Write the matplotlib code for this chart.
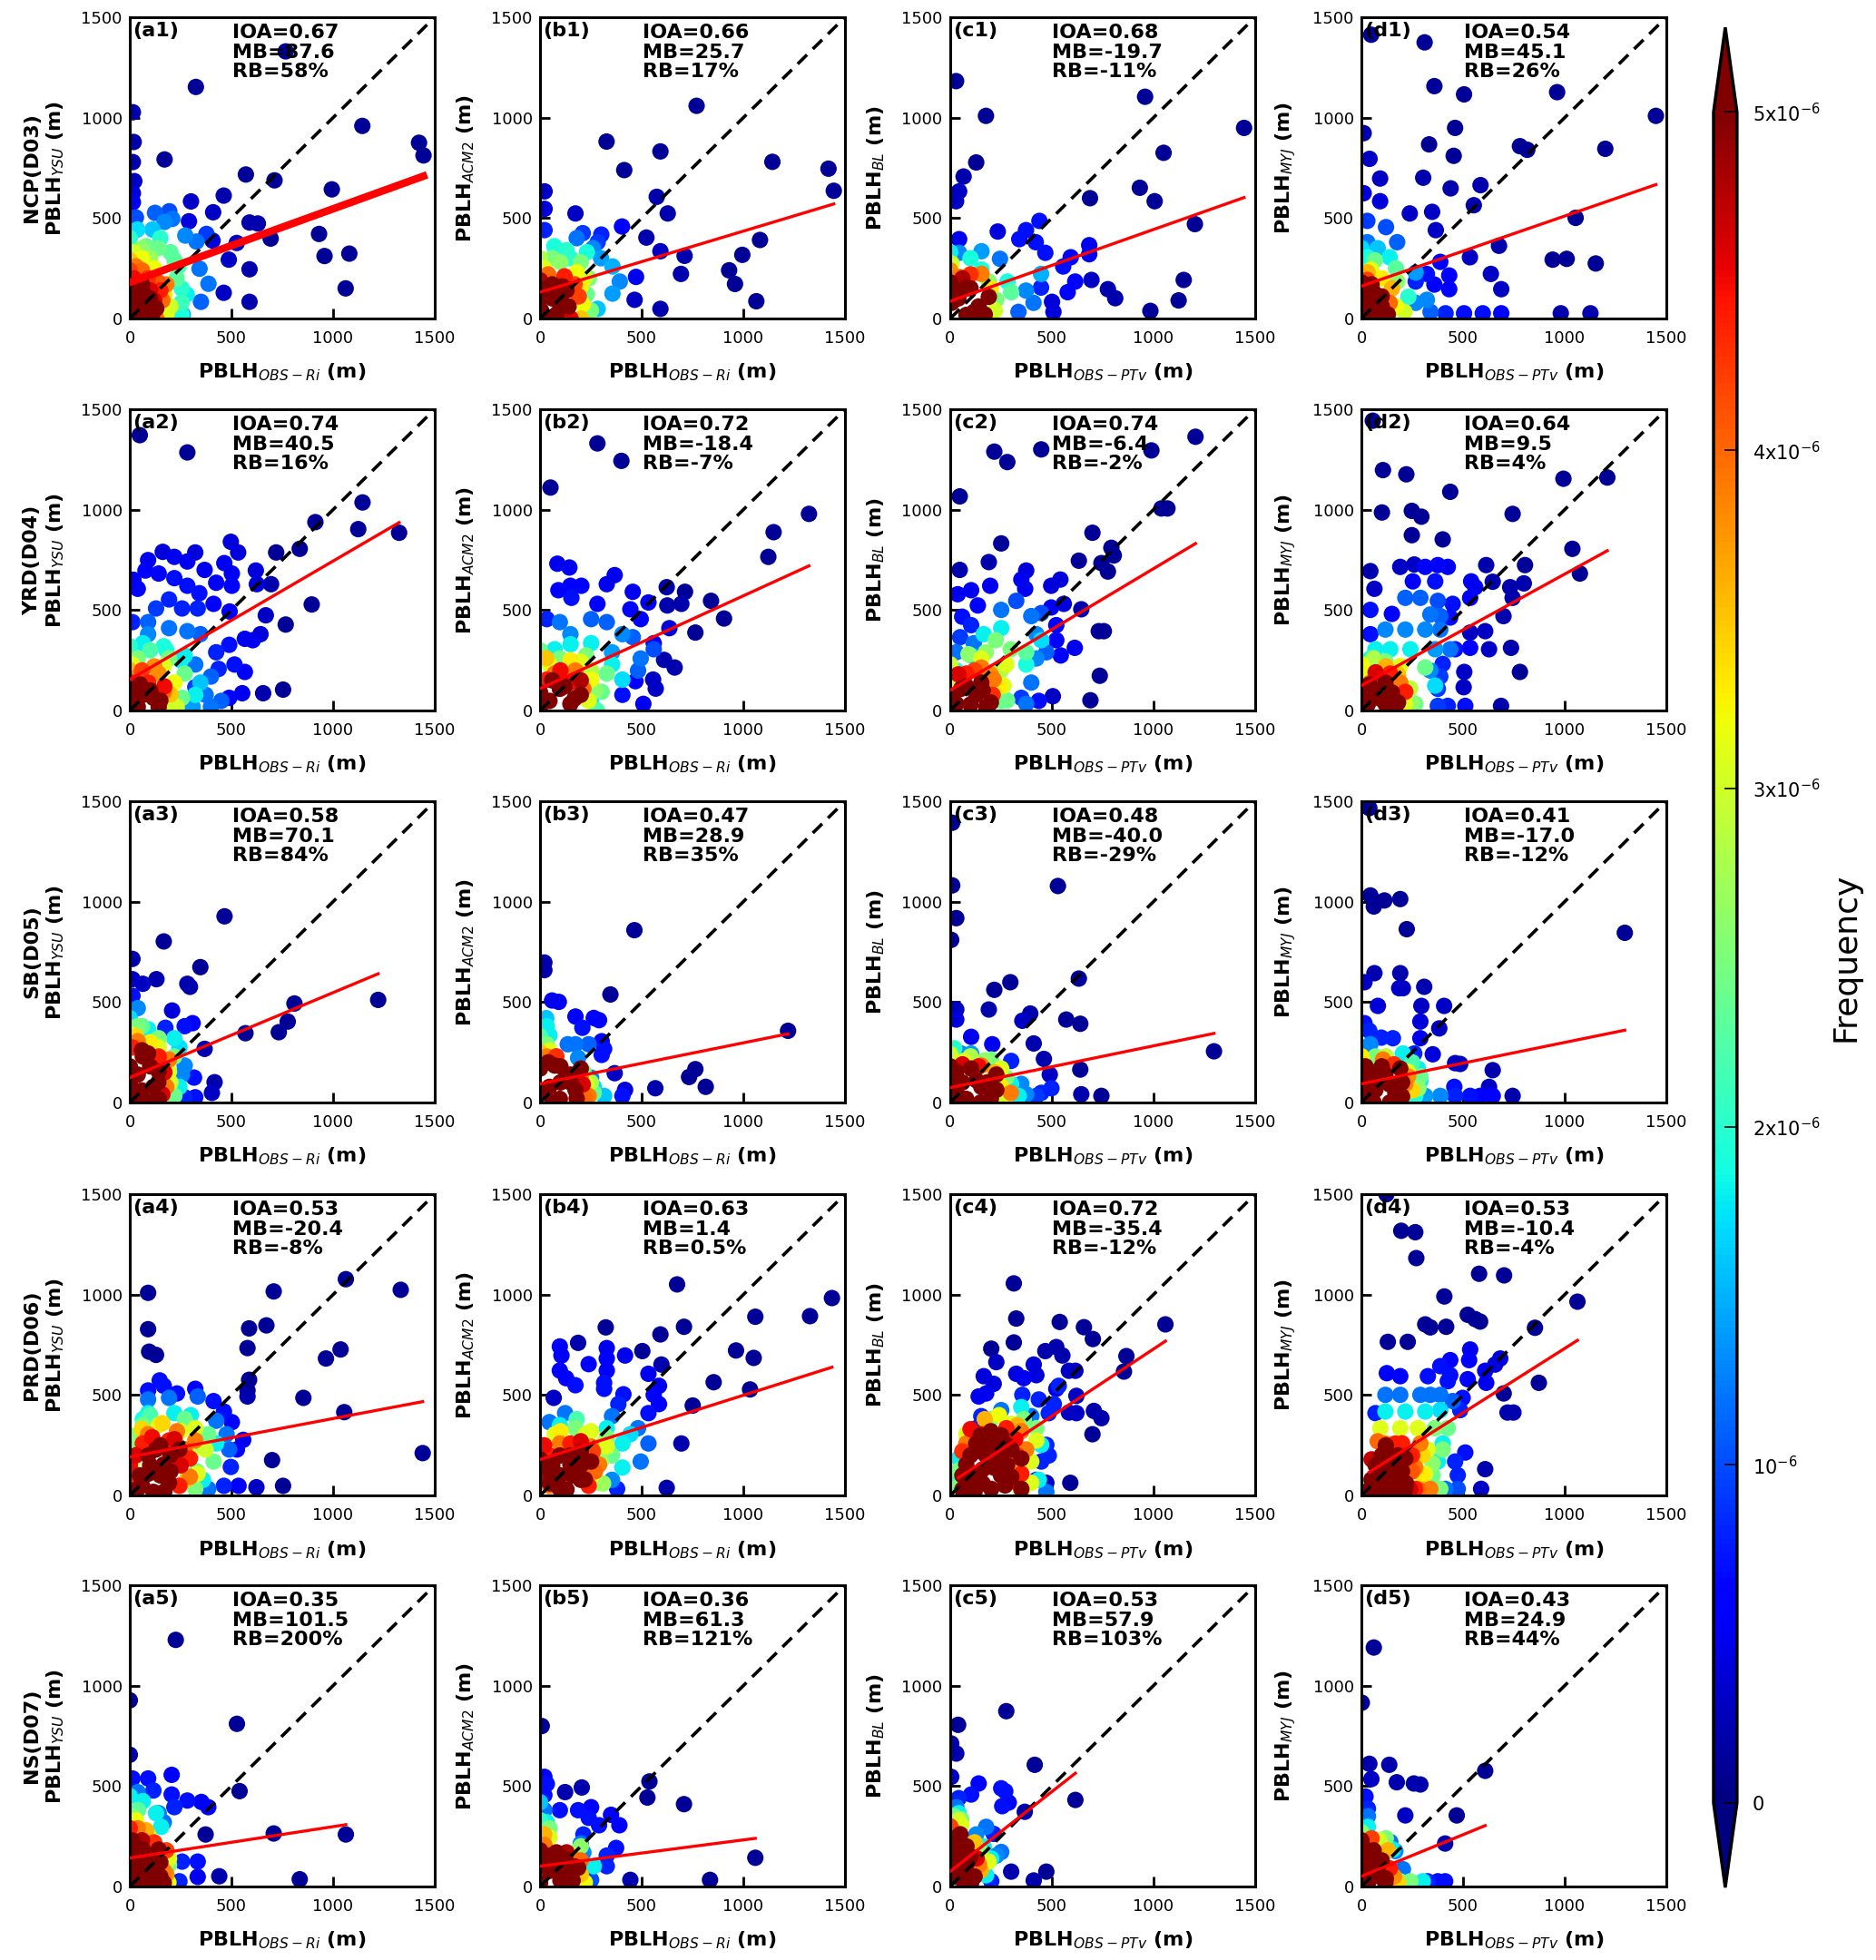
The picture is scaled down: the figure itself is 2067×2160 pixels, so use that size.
import numpy as np
import matplotlib.pyplot as plt

# rows = regions, cols = PBL schemes
regions = ['NCP(D03)', 'YRD(D04)', 'SB(D05)', 'PRD(D06)', 'NS(D07)']
schemes = ['YSU', 'ACM2', 'BL', 'MYJ']
obs_names = ['OBS-Ri', 'OBS-Ri', 'OBS-PTv', 'OBS-PTv']
letters = ['a', 'b', 'c', 'd']

ioa = [['0.67', '0.66', '0.68', '0.54'],
       ['0.74', '0.72', '0.74', '0.64'],
       ['0.58', '0.47', '0.48', '0.41'],
       ['0.53', '0.63', '0.72', '0.53'],
       ['0.35', '0.36', '0.53', '0.43']]
mb = [['87.6', '25.7', '-19.7', '45.1'],
      ['40.5', '-18.4', '-6.4', '9.5'],
      ['70.1', '28.9', '-40.0', '-17.0'],
      ['-20.4', '1.4', '-35.4', '-10.4'],
      ['101.5', '61.3', '57.9', '24.9']]
rb = [['58%', '17%', '-11%', '26%'],
      ['16%', '-7%', '-2%', '4%'],
      ['84%', '35%', '-29%', '-12%'],
      ['-8%', '0.5%', '-12%', '-4%'],
      ['200%', '121%', '103%', '44%']]

# linear fit (slope, intercept)
fit_slope = [[0.366, 0.304, 0.357, 0.349],
             [0.590, 0.462, 0.605, 0.555],
             [0.423, 0.204, 0.208, 0.206],
             [0.191, 0.320, 0.668, 0.641],
             [0.156, 0.131, 0.794, 0.414]]
fit_icpt = [[180, 131, 86, 161],
            [154, 109, 101, 124],
            [124, 93, 74, 93],
            [192, 179, 61, 91],
            [142, 101, 75, 51]]

# points: (obs, model, frequency in 1e-6)
a1_pts = [(767, 1330, 0.1), (325, 1153, 0.1), (15, 1027, 0.2), (19, 879, 0.2), (15, 779, 0.2), (171, 792, 0.1),
          (22, 684, 0.3), (15, 624, 0.4), (15, 579, 0.5), (1144, 959, 0.1), (1423, 875, 0.1), (1445, 812, 0.1),
          (571, 717, 0.1), (712, 688, 0.1), (994, 643, 0.1), (462, 612, 0.2), (301, 583, 0.3), (410, 529, 0.3),
          (291, 484, 0.4), (589, 478, 0.2), (630, 473, 0.2), (407, 388, 0.4), (693, 398, 0.1), (931, 421, 0.1),
          (958, 311, 0.1), (1080, 323, 0.1), (487, 293, 0.3), (589, 245, 0.2), (1062, 150, 0.1), (462, 128, 0.3),
          (589, 83, 0.2), (526, 376, 0.3), (377, 421, 0.9), (350, 83, 1.1), (387, 173, 1.2), (343, 248, 1.2),
          (273, 413, 1.3), (328, 383, 1.2), (124, 526, 1.1), (194, 534, 1.0), (209, 496, 1.2), (171, 481, 1.3),
          (112, 443, 1.6), (30, 503, 1.0), (37, 443, 1.7), (260, 20, 1.4), (80, 360, 2.4), (140, 350, 2.4),
          (200, 330, 2.3), (100, 300, 2.7), (220, 290, 2.3), (240, 260, 2.2), (255, 150, 2.0), (255, 80, 2.1),
          (255, 20, 1.9), (230, 200, 2.3), (280, 120, 1.8), (20, 330, 3.0), (60, 300, 3.2), (120, 250, 3.2),
          (150, 60, 3.0), (180, 20, 3.1), (170, 120, 3.3), (30, 260, 3.9), (60, 240, 4.0), (180, 170, 3.9),
          (140, 180, 4.1), (20, 200, 4.5), (100, 140, 4.6), (120, 90, 4.6), (40, 150, 4.9), (30, 80, 5.5),
          (60, 60, 5.6), (90, 40, 5.5), (5, 20, 5.6), (70, 120, 5.4), (40, 110, 5.6), (110, 20, 5.3),
          (0, 50, 5.6), (50, 0, 5.6), (100, 100, 5.5), (130, 50, 5.3), (0, 130, 5.4), (60, 170, 5.0),
          (0, 240, 4.2), (90, 200, 4.3), (150, 140, 4.4), (160, 90, 4.0), (130, 0, 4.0), (200, 60, 3.0),
          (60, 350, 2.6), (0, 400, 2.0), (150, 400, 2.0), (0, 290, 3.5)]

b1_pts = [(770, 1059, 0.1), (327, 881, 0.1), (592, 832, 0.1), (414, 739, 0.1), (1143, 780, 0.1), (1419, 746, 0.1),
          (1445, 636, 0.1), (574, 606, 0.2), (628, 523, 0.2), (22, 633, 0.3), (22, 546, 0.4), (174, 523, 0.3),
          (523, 403, 0.2), (592, 335, 0.3), (711, 312, 0.2), (1082, 391, 0.1), (995, 317, 0.1), (930, 240, 0.1),
          (959, 172, 0.1), (693, 222, 0.2), (472, 207, 0.5), (465, 93, 0.3), (592, 48, 0.2), (1064, 86, 0.1),
          (403, 458, 0.6), (22, 440, 0.8), (301, 418, 0.8), (210, 425, 0.9), (283, 380, 0.9), (180, 400, 1.2),
          (260, 350, 1.3), (300, 300, 1.4), (356, 259, 1.5), (392, 184, 1.3), (356, 124, 1.4), (283, 48, 1.6),
          (70, 360, 1.9), (130, 340, 2.0), (230, 330, 1.9), (100, 280, 2.6), (200, 280, 2.5), (240, 200, 2.5),
          (230, 120, 2.4), (250, 40, 2.5), (20, 250, 3.1), (180, 230, 3.2), (200, 160, 3.3), (210, 70, 3.2),
          (40, 220, 4.0), (120, 210, 4.4), (150, 170, 4.0), (190, 110, 4.2), (30, 150, 5.3), (60, 100, 5.5),
          (100, 60, 5.6), (5, 40, 5.6), (130, 140, 5.2), (80, 20, 5.6), (110, 160, 5.2),
          (0, 100, 5.5), (60, 170, 5.3), (100, 110, 5.5), (140, 60, 5.4), (0, 190, 4.8), (40, 0, 5.6),
          (150, 0, 4.6), (170, 170, 4.2), (0, 300, 2.8), (60, 300, 2.5), (150, 300, 2.0), (200, 0, 3.5),
          (220, 200, 3.0)]

c1_pts = [(29, 1182, 0.1), (176, 1009, 0.1), (128, 777, 0.1), (66, 707, 0.2), (44, 633, 0.3), (29, 584, 0.3),
          (959, 1104, 0.1), (1446, 949, 0.1), (1050, 825, 0.1), (933, 651, 0.1), (1006, 584, 0.1), (688, 599, 0.1),
          (1204, 470, 0.1), (234, 433, 0.4), (44, 395, 0.5), (1149, 192, 0.1), (1124, 90, 0.1), (985, 38, 0.1),
          (776, 146, 0.2), (812, 101, 0.2), (695, 192, 0.3), (501, 83, 0.4), (508, 33, 0.4), (439, 486, 0.7),
          (373, 440, 0.7), (340, 395, 0.7), (421, 380, 0.7), (468, 327, 0.7), (593, 305, 0.6), (684, 365, 0.5),
          (684, 320, 0.5), (556, 259, 0.7), (615, 184, 0.6), (578, 131, 0.6), (447, 154, 0.8), (336, 33, 1.1),
          (410, 78, 1.2), (373, 139, 1.3), (245, 297, 1.2), (44, 327, 1.3), (154, 335, 1.4), (154, 244, 1.9),
          (282, 184, 1.9), (447, 222, 1.5), (190, 184, 2.6), (227, 93, 2.5), (300, 131, 2.3), (7, 274, 3.0),
          (154, 33, 3.0), (44, 207, 3.9), (154, 222, 3.9), (80, 154, 5.3), (7, 78, 5.6), (117, 33, 5.6),
          (190, 108, 5.0), (44, 139, 5.5), (80, 18, 5.6),
          (40, 100, 5.6), (100, 150, 5.4), (140, 60, 5.5), (0, 180, 5.2), (170, 20, 5.0), (60, 200, 4.8),
          (100, 220, 4.3), (0, 240, 3.8), (200, 150, 3.3), (220, 40, 3.0), (0, 330, 1.8), (100, 300, 1.9)]

d1_pts = [(48, 1413, 0.1), (311, 1375, 0.1), (359, 1157, 0.1), (505, 1116, 0.1), (963, 1127, 0.1), (461, 949, 0.1),
          (11, 923, 0.2), (333, 867, 0.1), (454, 810, 0.1), (780, 858, 0.1), (816, 840, 0.1), (1200, 845, 0.1),
          (1449, 1009, 0.1), (40, 795, 0.3), (92, 697, 0.3), (304, 701, 0.2), (11, 624, 0.4), (439, 648, 0.2),
          (586, 664, 0.2), (92, 584, 0.4), (553, 564, 0.2), (238, 523, 0.3), (348, 531, 0.3), (1054, 501, 0.1),
          (366, 440, 0.3), (677, 362, 0.2), (941, 293, 0.1), (1010, 297, 0.1), (1153, 274, 0.1), (534, 305, 0.3),
          (637, 222, 0.3), (688, 146, 0.3), (981, 26, 0.2), (1127, 26, 0.2), (505, 26, 0.7), (597, 26, 0.7),
          (688, 26, 0.6), (414, 26, 0.8), (432, 146, 0.6), (359, 169, 0.6), (432, 214, 0.6), (322, 222, 0.7),
          (388, 282, 0.6), (267, 184, 0.8), (29, 486, 0.9), (121, 455, 1.0), (176, 380, 1.1), (29, 380, 1.2),
          (267, 78, 1.3), (340, 33, 1.1), (322, 93, 1.3), (267, 229, 1.4), (29, 305, 1.9), (139, 305, 1.8),
          (231, 108, 2.0), (66, 290, 2.4), (176, 184, 2.6), (48, 244, 3.1), (212, 33, 3.0), (29, 192, 4.2),
          (139, 78, 4.0), (5, 130, 5.4), (40, 80, 5.6), (80, 40, 5.6), (20, 20, 5.6), (60, 130, 5.2), (100, 60, 5.4),
          (0, 50, 5.6), (50, 170, 5.2), (100, 110, 5.3), (130, 20, 5.4), (0, 180, 5.0), (30, 230, 3.6),
          (100, 200, 3.3), (150, 150, 3.6), (170, 60, 3.2), (0, 350, 1.7), (80, 350, 1.6), (170, 250, 2.3)]

a2_pts = [(49, 1371, 0.1), (283, 1285, 0.1), (1145, 1036, 0.1), (1124, 903, 0.1), (1325, 885, 0.1), (913, 938, 0.1),
          (836, 805, 0.1), (895, 528, 0.1), (767, 428, 0.1), (754, 104, 0.1), (656, 86, 0.2), (553, 86, 0.5),
          (720, 787, 0.1), (695, 629, 0.2), (497, 840, 0.4), (533, 787, 0.4), (465, 734, 0.5), (502, 682, 0.5),
          (502, 621, 0.6), (425, 636, 0.6), (368, 700, 0.5), (322, 787, 0.4), (283, 742, 0.5), (219, 765, 0.5),
          (162, 790, 0.4), (90, 749, 0.5), (142, 682, 0.6), (77, 697, 0.6), (219, 659, 0.7), (283, 621, 0.7),
          (342, 584, 0.7), (412, 531, 0.6), (334, 508, 0.8), (257, 508, 0.8), (193, 553, 0.8), (129, 508, 0.9),
          (18, 651, 0.5), (39, 606, 0.6), (620, 697, 0.4), (625, 629, 0.4), (491, 493, 0.6), (669, 474, 0.3),
          (643, 380, 0.4), (566, 357, 0.5), (605, 350, 0.5), (489, 327, 0.7), (515, 229, 0.7), (566, 192, 0.6),
          (437, 207, 0.8), (425, 290, 0.8), (489, 63, 0.6), (322, 116, 0.9), (13, 440, 0.8), (90, 440, 1.1),
          (193, 410, 1.2), (283, 395, 1.2), (347, 380, 1.1), (90, 380, 1.3), (322, 229, 1.2), (399, 169, 1.1),
          (373, 78, 1.2), (450, 48, 1.1), (399, 18, 1.2), (309, 18, 1.4), (64, 335, 1.8), (167, 320, 1.9),
          (270, 274, 1.8), (322, 78, 1.8), (347, 139, 1.6), (39, 259, 2.5), (193, 259, 2.5), (270, 184, 2.4),
          (257, 63, 2.4), (13, 229, 3.1), (167, 222, 3.1), (219, 139, 3.2), (206, 33, 3.0), (39, 169, 3.9),
          (142, 184, 3.8), (167, 93, 4.0), (90, 139, 4.4), (13, 139, 4.4), (64, 78, 5.6), (116, 63, 5.5),
          (39, 18, 5.6), (26, 108, 5.4), (142, 18, 5.3), (0, 50, 5.2),
          (50, 130, 5.4), (100, 100, 5.6), (150, 50, 5.4), (0, 100, 5.5), (170, 120, 4.5), (60, 200, 4.2),
          (120, 220, 3.8), (0, 200, 3.6), (200, 80, 3.5), (230, 20, 3.0), (100, 300, 2.2), (250, 250, 1.8),
          (0, 320, 2.0), (180, 300, 1.9)]

b2_pts = [(282, 1330, 0.1), (400, 1243, 0.1), (51, 1110, 0.1), (1323, 979, 0.1), (1149, 888, 0.1), (1123, 765, 0.1),
          (841, 546, 0.1), (905, 458, 0.1), (623, 614, 0.2), (713, 591, 0.1), (626, 523, 0.2), (695, 531, 0.2),
          (764, 388, 0.1), (610, 252, 0.2), (662, 214, 0.2), (556, 154, 0.3), (569, 109, 0.3), (508, 33, 0.5),
          (85, 731, 0.5), (144, 712, 0.5), (90, 599, 0.6), (149, 621, 0.6), (203, 621, 0.6), (154, 561, 0.7),
          (282, 531, 0.6), (328, 629, 0.5), (367, 674, 0.5), (456, 591, 0.5), (533, 538, 0.5), (444, 504, 0.6),
          (495, 455, 0.6), (636, 410, 0.4), (559, 335, 0.6), (469, 146, 0.6), (405, 78, 0.7), (33, 455, 0.8),
          (97, 440, 1.2), (251, 455, 1.1), (328, 440, 1.1), (149, 380, 1.3), (456, 365, 1.1), (559, 305, 1.0),
          (495, 259, 1.2), (405, 380, 1.3), (354, 290, 1.4), (482, 199, 1.1), (72, 305, 1.8), (251, 335, 1.8),
          (354, 229, 1.8), (405, 154, 1.7), (251, 48, 1.8), (97, 259, 2.5), (226, 274, 2.5), (328, 184, 2.4),
          (303, 93, 2.4), (46, 229, 3.1), (200, 244, 3.1), (251, 154, 3.2), (239, 48, 3.1), (72, 184, 3.9),
          (174, 199, 3.9), (213, 108, 4.0), (33, 154, 4.4), (149, 139, 4.5), (97, 108, 5.6), (46, 48, 5.6),
          (149, 33, 5.5), (200, 78, 5.4), (0, 18, 5.6),
          (60, 150, 5.5), (120, 120, 5.6), (170, 60, 5.5), (0, 90, 5.4), (200, 150, 4.8), (100, 200, 4.5),
          (30, 260, 3.5), (150, 250, 3.3), (250, 200, 2.8), (270, 100, 2.6), (280, 0, 2.2), (0, 300, 2.4),
          (150, 330, 1.8)]

c2_pts = [(217, 1289, 0.1), (281, 1237, 0.1), (448, 1300, 0.1), (990, 1295, 0.1), (1207, 1363, 0.1), (47, 1066, 0.1),
          (1039, 1006, 0.1), (1069, 1006, 0.1), (700, 885, 0.1), (251, 832, 0.1), (793, 810, 0.1), (805, 772, 0.1),
          (744, 734, 0.1), (776, 692, 0.1), (633, 746, 0.1), (190, 739, 0.2), (47, 700, 0.2), (731, 395, 0.1),
          (756, 395, 0.1), (736, 173, 0.1), (690, 51, 0.1), (645, 504, 0.2), (505, 71, 0.3), (37, 579, 0.5),
          (103, 599, 0.5), (136, 523, 0.6), (197, 621, 0.5), (374, 697, 0.4), (369, 606, 0.5), (350, 652, 0.5),
          (497, 621, 0.4), (542, 652, 0.4), (559, 531, 0.4), (497, 513, 0.5), (59, 467, 0.7), (103, 425, 0.8),
          (49, 365, 0.9), (522, 425, 0.6), (522, 350, 0.6), (613, 312, 0.5), (544, 274, 0.6), (436, 48, 0.7),
          (350, 63, 0.9), (251, 501, 1.2), (325, 546, 1.0), (399, 470, 1.2), (448, 485, 1.0), (424, 380, 1.3),
          (473, 290, 1.1), (424, 259, 1.3), (116, 335, 1.2), (30, 290, 1.2), (399, 139, 1.2), (374, 33, 1.2),
          (251, 410, 1.8), (165, 380, 1.8), (448, 350, 1.7), (374, 229, 1.9), (103, 274, 1.8), (30, 199, 1.9),
          (224, 350, 2.5), (298, 305, 2.5), (175, 290, 2.6), (374, 290, 2.3), (251, 48, 2.4), (153, 259, 3.1),
          (276, 229, 3.1), (17, 139, 3.1), (263, 124, 3.1), (153, 214, 3.9), (214, 154, 3.9), (79, 184, 4.4),
          (209, 78, 4.3), (54, 108, 5.6), (128, 78, 5.6), (30, 33, 5.6), (153, 139, 5.3), (177, 18, 5.5),
          (0, 60, 5.4),
          (80, 120, 5.6), (160, 100, 5.5), (100, 30, 5.6), (200, 40, 5.2), (40, 180, 4.6), (120, 200, 4.2),
          (200, 180, 3.8), (240, 120, 3.3), (0, 230, 3.0), (90, 280, 2.6), (250, 200, 2.8), (280, 50, 2.4)]

d2_pts = [(56, 1443, 0.1), (106, 1197, 0.1), (221, 1176, 0.1), (437, 1089, 0.1), (994, 1154, 0.1), (1210, 1160, 0.1),
          (101, 986, 0.1), (248, 994, 0.1), (295, 965, 0.1), (744, 979, 0.1), (248, 873, 0.1), (400, 852, 0.1),
          (1038, 805, 0.1), (1075, 682, 0.1), (44, 694, 0.2), (64, 606, 0.3), (191, 715, 0.3), (260, 727, 0.3),
          (614, 724, 0.2), (805, 724, 0.1), (646, 641, 0.2), (732, 614, 0.2), (799, 633, 0.2), (744, 561, 0.2),
          (699, 470, 0.2), (609, 395, 0.3), (535, 388, 0.3), (628, 305, 0.3), (736, 312, 0.2), (780, 192, 0.1),
          (506, 192, 0.3), (503, 116, 0.3), (687, 23, 0.2), (44, 501, 0.7), (44, 380, 0.7), (150, 481, 0.6),
          (253, 643, 0.6), (314, 715, 0.6), (376, 724, 0.6), (425, 715, 0.5), (363, 643, 0.7), (540, 643, 0.5),
          (560, 614, 0.5), (535, 561, 0.6), (449, 531, 0.7), (437, 463, 0.7), (461, 305, 0.7), (535, 312, 0.6),
          (400, 232, 0.8), (376, 108, 0.9), (425, 23, 0.8), (511, 23, 0.7), (376, 23, 0.9), (388, 169, 0.9),
          (216, 561, 1.1), (290, 561, 1.1), (376, 546, 1.0), (339, 478, 1.2), (388, 470, 1.1), (118, 403, 1.3),
          (216, 403, 1.3), (314, 403, 1.3), (388, 403, 1.2), (363, 305, 1.4), (437, 305, 1.2), (339, 199, 1.3),
          (69, 305, 1.8), (142, 305, 1.8), (241, 305, 1.8), (44, 259, 1.9), (363, 124, 1.7), (118, 244, 2.5),
          (314, 214, 2.4), (265, 33, 2.4), (44, 184, 3.1), (191, 222, 3.1), (216, 33, 3.1), (93, 169, 3.9),
          (191, 139, 3.9), (44, 139, 3.9), (142, 184, 4.4), (216, 93, 4.4), (69, 93, 5.6), (118, 33, 5.6),
          (32, 33, 5.5), (118, 139, 5.2), (167, 18, 5.4), (0, 60, 5.0),
          (40, 130, 5.5), (90, 60, 5.6), (150, 90, 5.4), (180, 40, 5.3), (0, 120, 5.2), (70, 190, 4.6),
          (120, 220, 3.6), (180, 180, 3.5), (0, 230, 3.2), (60, 260, 2.8), (240, 110, 2.9), (250, 40, 2.6)]

a3_pts = [(466, 927, 0.1), (167, 802, 0.1), (13, 715, 0.2), (347, 674, 0.1), (131, 614, 0.2), (64, 591, 0.3),
          (13, 614, 0.3), (296, 576, 0.2), (283, 591, 0.2), (1222, 511, 0.1), (810, 493, 0.1), (777, 403, 0.1),
          (733, 350, 0.1), (569, 345, 0.1), (208, 458, 0.4), (368, 267, 0.2), (417, 101, 0.2), (404, 48, 0.3),
          (270, 380, 0.7), (309, 395, 0.6), (175, 372, 0.8), (316, 124, 0.7), (270, 26, 0.8), (322, 26, 0.7),
          (13, 531, 0.7), (270, 184, 1.3), (257, 139, 1.3), (39, 470, 1.3), (90, 365, 1.8), (219, 320, 1.8),
          (244, 274, 1.7), (244, 78, 1.8), (39, 380, 2.5), (142, 320, 2.5), (219, 229, 2.5), (219, 33, 2.4),
          (13, 335, 3.1), (142, 274, 3.1), (193, 154, 3.1), (39, 305, 3.9), (193, 214, 3.9), (180, 78, 3.9),
          (13, 274, 4.4), (142, 229, 4.4), (64, 229, 5.3), (39, 139, 5.6), (116, 78, 5.6), (39, 33, 5.6),
          (142, 154, 5.4), (90, 244, 5.2), (142, 18, 5.5), (0, 90, 5.6),
          (0, 180, 5.6), (60, 260, 5.0), (100, 180, 5.6), (60, 60, 5.6), (140, 100, 5.3), (0, 40, 5.6),
          (100, 0, 5.5), (170, 150, 4.6), (160, 40, 4.6), (30, 330, 3.4), (100, 300, 3.3), (200, 100, 3.0),
          (60, 380, 2.3), (0, 420, 1.7)]

b3_pts = [(464, 858, 0.1), (21, 697, 0.2), (21, 659, 0.2), (346, 538, 0.1), (1220, 357, 0.1), (764, 166, 0.1),
          (733, 127, 0.1), (815, 78, 0.1), (567, 71, 0.2), (418, 63, 0.4), (367, 146, 0.3), (59, 508, 0.5),
          (92, 501, 0.5), (174, 428, 0.6), (264, 421, 0.6), (290, 410, 0.6), (208, 372, 0.7), (303, 305, 0.6),
          (315, 267, 0.7), (303, 237, 0.7), (405, 33, 0.7), (136, 290, 1.2), (174, 290, 1.2), (239, 290, 1.1),
          (187, 222, 1.3), (251, 124, 1.3), (33, 380, 1.8), (46, 335, 1.8), (264, 78, 1.7), (315, 33, 1.6),
          (33, 290, 2.5), (213, 154, 2.5), (264, 48, 2.4), (46, 259, 3.1), (226, 93, 3.1), (33, 229, 3.9),
          (200, 124, 3.9), (239, 33, 3.9), (72, 184, 5.6), (149, 139, 5.6), (46, 78, 5.6), (174, 63, 5.6),
          (97, 18, 5.6), (200, 169, 5.2), (0, 169, 5.3),
          (100, 100, 5.6), (150, 100, 5.5), (40, 200, 5.4), (100, 180, 5.5), (180, 20, 5.4), (0, 60, 5.6),
          (60, 0, 5.6), (210, 90, 4.6), (220, 20, 4.0), (0, 250, 3.5), (80, 230, 4.3), (250, 100, 2.8),
          (0, 330, 2.2), (30, 420, 1.6)]

c3_pts = [(10, 1393, 0.1), (10, 1081, 0.1), (530, 1078, 0.1), (30, 918, 0.1), (5, 810, 0.1), (296, 599, 0.1),
          (217, 561, 0.1), (633, 617, 0.1), (30, 463, 0.3), (30, 413, 0.4), (190, 463, 0.2), (394, 443, 0.2),
          (355, 407, 0.3), (571, 413, 0.1), (640, 392, 0.1), (103, 327, 0.5), (411, 294, 0.2), (207, 290, 0.5),
          (1298, 255, 0.1), (461, 217, 0.2), (640, 164, 0.1), (490, 139, 0.3), (645, 41, 0.2), (744, 33, 0.1),
          (498, 71, 0.8), (448, 48, 0.8), (424, 33, 0.9), (300, 207, 0.8), (374, 41, 1.3), (350, 93, 1.3),
          (54, 244, 1.3), (103, 244, 1.4), (30, 214, 1.8), (300, 93, 1.8), (337, 33, 1.8), (202, 214, 2.5),
          (276, 124, 2.5), (251, 33, 2.4), (66, 207, 3.1), (251, 169, 3.1), (153, 184, 3.9), (298, 48, 3.9),
          (30, 154, 5.5), (103, 169, 5.5), (153, 78, 5.6), (30, 48, 5.6), (227, 63, 5.4), (227, 139, 5.2),
          (79, 18, 5.6), (0, 100, 5.6),
          (60, 100, 5.6), (130, 110, 5.6), (180, 100, 5.5), (50, 0, 5.6), (200, 20, 5.5), (150, 0, 5.5),
          (0, 180, 5.2), (60, 190, 4.6), (140, 180, 4.5), (220, 150, 3.6), (250, 80, 3.3), (260, 20, 3.0),
          (0, 240, 3.0), (100, 230, 2.8), (170, 210, 2.6), (20, 270, 2.0)]

d3_pts = [(39, 1466, 0.1), (44, 1031, 0.1), (61, 976, 0.1), (113, 1006, 0.1), (191, 1013, 0.1), (223, 863, 0.1),
          (1296, 845, 0.1), (64, 644, 0.2), (191, 644, 0.2), (204, 569, 0.3), (186, 569, 0.3), (309, 576, 0.2),
          (15, 599, 0.3), (81, 481, 0.4), (295, 481, 0.3), (407, 481, 0.3), (290, 403, 0.4), (383, 369, 0.3),
          (290, 320, 0.5), (351, 240, 0.4), (461, 196, 0.3), (486, 192, 0.3), (646, 161, 0.2), (628, 78, 0.3),
          (744, 33, 0.2), (15, 395, 0.7), (39, 357, 0.8), (155, 320, 0.8), (98, 323, 0.8), (260, 244, 0.8),
          (457, 78, 0.7), (535, 33, 0.7), (584, 33, 0.6), (646, 33, 0.6), (461, 33, 0.8), (44, 290, 1.3),
          (388, 33, 1.3), (314, 33, 1.4), (204, 244, 1.8), (278, 169, 1.8), (290, 108, 1.8), (265, 33, 1.9),
          (69, 229, 2.5), (290, 131, 2.4), (7, 199, 3.1), (228, 154, 3.1), (106, 214, 3.9), (216, 93, 3.9),
          (44, 154, 5.6), (118, 139, 5.5), (69, 63, 5.6), (167, 48, 5.5), (20, 18, 5.6), (191, 169, 5.2),
          (0, 100, 5.6),
          (70, 100, 5.6), (140, 90, 5.6), (200, 100, 5.4), (0, 60, 5.6), (60, 0, 5.6), (140, 0, 5.6),
          (200, 30, 5.4), (20, 180, 5.0), (100, 180, 5.0), (160, 190, 4.3), (230, 130, 3.8), (250, 60, 3.4),
          (0, 230, 3.3), (120, 230, 2.9), (250, 200, 2.2), (280, 70, 2.6)]

a4_pts = [(90, 1009, 0.1), (90, 828, 0.1), (95, 716, 0.1), (129, 700, 0.1), (708, 1016, 0.1), (1063, 1077, 0.1),
          (1333, 1024, 0.1), (587, 832, 0.1), (672, 847, 0.1), (579, 734, 0.1), (965, 682, 0.1), (1037, 727, 0.1),
          (587, 576, 0.1), (579, 523, 0.1), (579, 493, 0.2), (854, 486, 0.1), (1055, 415, 0.1), (1441, 211, 0.1),
          (700, 176, 0.1), (754, 48, 0.1), (623, 41, 0.3), (147, 573, 0.7), (167, 546, 0.7), (90, 523, 0.7),
          (232, 508, 0.7), (322, 531, 0.6), (412, 470, 0.7), (463, 418, 0.7), (502, 365, 0.6), (558, 277, 0.5),
          (527, 229, 0.6), (535, 48, 0.6), (463, 48, 0.8), (497, 142, 0.8), (90, 478, 1.2), (193, 486, 1.2),
          (334, 493, 1.1), (425, 372, 1.2), (476, 305, 1.2), (489, 229, 1.1), (386, 33, 1.2), (90, 410, 1.8),
          (219, 410, 1.8), (425, 259, 1.8), (360, 78, 1.8), (64, 380, 1.9), (64, 350, 2.5), (270, 380, 2.4),
          (386, 305, 2.4), (412, 169, 2.4), (26, 259, 2.5), (322, 33, 2.5), (142, 350, 3.1), (322, 335, 3.1),
          (373, 229, 3.0), (334, 108, 3.1), (13, 169, 3.1), (90, 305, 3.9), (232, 320, 3.9), (322, 274, 3.9),
          (296, 93, 3.9), (64, 259, 4.4), (193, 274, 4.4), (296, 184, 4.4), (244, 48, 4.4), (90, 199, 5.5),
          (167, 154, 5.6), (90, 108, 5.6), (193, 63, 5.5), (39, 33, 5.4), (244, 229, 5.2), (129, 229, 5.6),
          (116, 18, 5.5), (0, 150, 4.5),
          (150, 250, 5.4), (200, 200, 5.5), (100, 150, 5.6), (150, 100, 5.6), (200, 120, 5.5), (50, 100, 5.4),
          (60, 50, 5.5), (170, 20, 5.2), (250, 150, 4.6), (220, 280, 4.6), (110, 290, 4.5), (30, 200, 4.6),
          (0, 80, 4.3), (270, 230, 4.0), (280, 80, 3.5), (160, 360, 3.4), (60, 330, 3.4), (250, 320, 3.1),
          (300, 200, 3.0), (0, 300, 2.6), (100, 400, 2.2), (300, 400, 1.8), (330, 250, 2.0), (330, 120, 2.4),
          (0, 20, 3.8)]

b4_pts = [(674, 1051, 0.1), (1436, 983, 0.1), (1328, 893, 0.1), (1059, 890, 0.1), (708, 840, 0.1), (592, 802, 0.1),
          (323, 837, 0.1), (187, 760, 0.2), (503, 719, 0.1), (964, 722, 0.1), (1051, 685, 0.1), (854, 564, 0.1),
          (1033, 528, 0.1), (751, 448, 0.1), (695, 259, 0.2), (623, 38, 0.2), (67, 486, 0.3), (597, 652, 0.2),
          (97, 742, 0.6), (105, 697, 0.6), (97, 622, 0.6), (128, 584, 0.6), (174, 549, 0.7), (239, 654, 0.6),
          (328, 734, 0.5), (328, 682, 0.6), (328, 622, 0.6), (315, 561, 0.7), (418, 697, 0.5), (315, 531, 0.7),
          (410, 504, 0.7), (533, 606, 0.5), (585, 546, 0.5), (559, 501, 0.6), (585, 455, 0.6), (533, 410, 0.7),
          (385, 455, 0.8), (379, 33, 0.8), (46, 365, 1.2), (123, 410, 1.2), (354, 395, 1.2), (482, 335, 1.2),
          (533, 259, 1.1), (495, 169, 1.2), (354, 78, 1.3), (97, 350, 1.8), (328, 335, 1.8), (405, 259, 1.8),
          (405, 139, 1.8), (444, 305, 1.7), (174, 335, 2.5), (328, 290, 2.5), (354, 199, 2.4), (290, 63, 2.5),
          (72, 305, 3.1), (226, 305, 3.1), (328, 244, 3.1), (251, 93, 3.1), (97, 259, 3.9), (251, 244, 3.9),
          (290, 154, 3.9), (46, 48, 3.9), (149, 259, 4.4), (46, 199, 4.4), (239, 48, 4.4), (97, 199, 5.6),
          (200, 214, 5.5), (149, 154, 5.6), (46, 124, 5.4), (200, 78, 5.6), (97, 33, 5.5), (251, 169, 5.3),
          (0, 150, 4.6),
          (60, 150, 5.6), (150, 200, 5.6), (200, 150, 5.5), (100, 100, 5.6), (160, 100, 5.6), (50, 60, 5.5),
          (130, 30, 5.5), (220, 80, 5.0), (20, 250, 4.5), (200, 270, 4.6), (260, 220, 4.2), (270, 120, 4.0),
          (0, 180, 5.0), (100, 320, 3.3), (250, 320, 3.1), (300, 250, 2.9), (300, 170, 2.7), (0, 80, 4.8),
          (180, 380, 2.2), (310, 60, 2.7)]

c4_pts = [(313, 1056, 0.1), (325, 881, 0.1), (313, 762, 0.1), (202, 731, 0.1), (539, 864, 0.1), (658, 838, 0.1),
          (702, 779, 0.1), (1059, 852, 0.1), (867, 694, 0.1), (855, 617, 0.1), (522, 739, 0.2), (552, 697, 0.2),
          (468, 719, 0.2), (227, 664, 0.3), (165, 594, 0.4), (214, 556, 0.4), (177, 508, 0.5), (140, 493, 0.5),
          (325, 606, 0.4), (411, 652, 0.4), (424, 599, 0.4), (362, 584, 0.5), (522, 531, 0.4), (584, 621, 0.3),
          (616, 621, 0.3), (621, 496, 0.3), (584, 413, 0.3), (621, 410, 0.3), (707, 421, 0.2), (744, 385, 0.2),
          (700, 305, 0.1), (591, 63, 0.1), (473, 63, 0.3), (534, 546, 0.8), (510, 455, 0.8), (485, 410, 0.8),
          (355, 501, 0.8), (436, 478, 0.8), (153, 395, 0.8), (128, 335, 0.8), (473, 252, 0.8), (485, 199, 0.8),
          (448, 169, 0.8), (424, 78, 0.8), (251, 425, 1.2), (399, 395, 1.2), (473, 18, 1.2), (350, 440, 1.8),
          (42, 184, 1.8), (448, 252, 1.8), (436, 78, 1.8), (202, 380, 2.5), (362, 380, 2.5), (40, 124, 2.5),
          (40, 40, 2.5), (424, 335, 2.5), (301, 357, 3.1), (79, 305, 3.1), (424, 274, 3.1), (399, 169, 3.1),
          (399, 63, 3.1), (350, 320, 3.9), (79, 259, 3.9), (374, 229, 3.9), (153, 305, 4.4), (276, 335, 4.4),
          (350, 108, 4.4), (128, 259, 5.5), (251, 290, 5.4), (301, 229, 5.6), (177, 199, 5.6), (79, 154, 5.5),
          (214, 139, 5.6), (128, 93, 5.6), (301, 93, 5.5), (79, 48, 5.5), (202, 33, 5.6), (350, 33, 5.3),
          (350, 184, 5.3),
          (150, 300, 5.4), (200, 320, 5.3), (250, 300, 5.2), (280, 250, 5.4), (200, 250, 5.6), (150, 220, 5.6),
          (250, 200, 5.6), (280, 150, 5.5), (100, 200, 5.4), (200, 160, 5.6), (160, 130, 5.6), (250, 100, 5.6),
          (100, 100, 5.5), (160, 60, 5.6), (270, 50, 5.5), (120, 20, 5.5), (60, 100, 5.3), (60, 30, 5.2),
          (320, 280, 4.5), (330, 200, 4.3), (300, 70, 4.4), (100, 330, 4.5), (60, 220, 4.3), (330, 350, 3.6),
          (320, 130, 3.6), (40, 80, 2.0), (350, 20, 3.5), (170, 380, 3.6), (240, 400, 3.2)]

d4_pts = [(123, 1500, 0.1), (196, 1318, 0.1), (265, 1311, 0.1), (270, 1182, 0.1), (579, 1104, 0.1), (702, 1096, 0.1),
          (408, 991, 0.1), (1063, 965, 0.1), (523, 900, 0.1), (560, 878, 0.1), (584, 866, 0.1), (314, 852, 0.1),
          (339, 837, 0.1), (417, 840, 0.1), (130, 765, 0.1), (228, 765, 0.1), (854, 835, 0.1), (873, 561, 0.1),
          (700, 508, 0.1), (719, 413, 0.2), (748, 413, 0.2), (609, 131, 0.2), (589, 33, 0.3), (125, 609, 0.6),
          (191, 594, 0.6), (535, 727, 0.5), (530, 674, 0.6), (437, 674, 0.6), (388, 644, 0.7), (327, 594, 0.7),
          (523, 579, 0.6), (425, 569, 0.7), (437, 599, 0.7), (609, 621, 0.5), (658, 652, 0.4), (683, 682, 0.4),
          (614, 561, 0.5), (498, 486, 0.7), (486, 425, 0.8), (511, 214, 0.7), (461, 169, 0.8), (474, 101, 0.8),
          (69, 410, 0.8), (118, 501, 1.2), (191, 501, 1.2), (290, 501, 1.2), (339, 501, 1.2), (388, 501, 1.2),
          (449, 470, 1.1), (413, 33, 1.2), (474, 33, 1.0), (118, 418, 1.8), (216, 418, 1.8), (314, 418, 1.8),
          (388, 425, 1.7), (400, 259, 1.8), (376, 169, 1.8), (39, 48, 1.9), (361, 335, 2.5), (425, 335, 2.4),
          (400, 229, 2.5), (388, 33, 2.5), (93, 335, 3.1), (191, 335, 3.1), (277, 335, 3.1), (326, 229, 3.1),
          (314, 108, 3.1), (118, 259, 3.9), (290, 259, 3.9), (265, 139, 3.9), (339, 33, 3.9), (167, 259, 4.4),
          (241, 199, 4.4), (265, 33, 4.4), (142, 199, 5.6), (216, 184, 5.5), (118, 139, 5.6), (191, 93, 5.6),
          (118, 33, 5.6), (44, 33, 5.3), (216, 33, 5.5),
          (100, 200, 5.5), (180, 200, 5.6), (70, 150, 5.5), (150, 150, 5.6), (200, 120, 5.5), (100, 90, 5.6),
          (160, 80, 5.6), (80, 30, 5.6), (160, 30, 5.6), (220, 60, 5.4), (50, 80, 5.2), (120, 250, 5.0),
          (200, 260, 4.4), (250, 200, 4.3), (250, 120, 4.1), (240, 30, 4.6), (280, 30, 4.0), (300, 200, 3.4),
          (300, 100, 3.3), (310, 30, 3.5), (80, 270, 4.0), (350, 160, 2.6), (350, 100, 2.4), (360, 30, 2.4),
          (50, 180, 4.7)]

a5_pts = [(226, 1228, 0.1), (0, 927, 0.1), (0, 656, 0.2), (527, 810, 0.1), (540, 475, 0.1), (373, 259, 0.1),
          (708, 264, 0.1), (1063, 259, 0.1), (836, 36, 0.1), (440, 51, 0.2), (334, 48, 0.5), (206, 556, 0.6),
          (206, 458, 0.7), (283, 428, 0.7), (352, 421, 0.6), (386, 395, 0.6), (219, 395, 0.8), (257, 124, 0.8),
          (334, 124, 0.7), (244, 26, 0.8), (13, 538, 0.7), (90, 538, 0.7), (116, 478, 0.8), (39, 470, 1.2),
          (167, 320, 1.2), (142, 365, 1.2), (64, 425, 1.8), (129, 365, 1.8), (154, 297, 1.8), (13, 350, 2.5),
          (193, 108, 2.5), (90, 259, 3.1), (193, 139, 3.1), (39, 290, 3.9), (167, 78, 3.9), (13, 229, 5.3),
          (64, 184, 5.6), (142, 184, 5.3), (39, 108, 5.6), (116, 78, 5.6), (39, 33, 5.6), (167, 18, 5.4),
          (60, 60, 5.6), (100, 130, 5.6), (30, 170, 5.6), (100, 30, 5.6), (150, 120, 5.4), (0, 80, 5.6),
          (150, 50, 5.3), (60, 230, 4.8), (0, 290, 4.4), (180, 180, 4.2), (180, 60, 3.8), (190, 20, 3.2),
          (30, 330, 3.2), (40, 380, 2.3), (0, 450, 1.8), (120, 220, 4.3), (80, 280, 3.6)]

b5_pts = [(8, 799, 0.1), (538, 523, 0.1), (528, 443, 0.1), (708, 410, 0.1), (1059, 143, 0.1), (836, 33, 0.1),
          (444, 33, 0.2), (123, 470, 0.2), (205, 493, 0.2), (21, 546, 0.6), (33, 511, 0.7), (21, 455, 0.7),
          (97, 380, 0.7), (187, 380, 0.7), (251, 395, 0.6), (239, 342, 0.7), (290, 305, 0.7), (349, 357, 0.6),
          (390, 305, 0.6), (213, 259, 0.8), (374, 192, 0.7), (328, 154, 0.8), (328, 101, 0.8), (251, 33, 1.0),
          (21, 380, 1.2), (200, 214, 1.2), (213, 169, 1.3), (33, 320, 1.8), (264, 101, 1.8), (46, 290, 2.5),
          (174, 169, 2.5), (46, 244, 3.1), (21, 207, 3.9), (162, 139, 3.9), (46, 154, 5.6), (123, 139, 5.5),
          (46, 78, 5.6), (149, 63, 5.6), (0, 18, 5.6), (187, 93, 5.3),
          (80, 100, 5.6), (130, 100, 5.6), (40, 120, 5.6), (100, 30, 5.6), (160, 30, 5.5), (0, 100, 5.6),
          (170, 100, 5.3), (80, 170, 5.4), (130, 170, 4.8), (0, 180, 5.2), (200, 130, 4.0), (200, 60, 3.5),
          (220, 20, 3.2), (20, 260, 3.6), (0, 330, 2.0), (200, 200, 2.6), (0, 420, 1.6)]

c5_pts = [(276, 873, 0.1), (39, 805, 0.1), (5, 712, 0.2), (30, 662, 0.2), (5, 546, 0.3), (416, 606, 0.1),
          (616, 431, 0.1), (367, 372, 0.2), (300, 74, 0.2), (473, 74, 0.1), (411, 30, 0.2), (140, 513, 0.6),
          (103, 458, 0.7), (42, 440, 0.8), (251, 489, 0.7), (271, 474, 0.7), (288, 418, 0.6), (256, 400, 0.7),
          (214, 262, 0.8), (202, 26, 0.8), (30, 395, 1.2), (177, 297, 1.2), (128, 259, 1.3), (251, 172, 1.2),
          (227, 154, 1.3), (42, 365, 1.8), (165, 199, 1.8), (177, 56, 1.8), (202, 139, 1.8), (54, 335, 2.5),
          (153, 169, 2.5), (54, 305, 3.1), (189, 124, 3.1), (17, 274, 3.9), (142, 108, 3.9), (30, 244, 5.5),
          (54, 199, 5.6), (17, 139, 5.6), (79, 108, 5.6), (30, 48, 5.6), (103, 18, 5.4), (0, 80, 5.6),
          (50, 60, 5.6), (90, 60, 5.6), (40, 200, 5.6), (80, 200, 5.5), (60, 130, 5.6), (100, 150, 5.4),
          (0, 180, 5.6), (20, 100, 5.6), (70, 0, 5.6), (120, 50, 5.2), (130, 140, 4.6), (50, 260, 5.0),
          (0, 300, 4.2), (120, 220, 3.5), (150, 80, 3.6), (40, 330, 3.0), (20, 350, 2.4), (100, 30, 5.4)]

d5_pts = [(61, 1190, 0.1), (2, 915, 0.1), (39, 611, 0.2), (137, 606, 0.2), (49, 535, 0.3), (174, 519, 0.2),
          (258, 513, 0.2), (290, 508, 0.2), (609, 576, 0.1), (216, 354, 0.3), (469, 354, 0.1), (412, 214, 0.2),
          (20, 448, 0.7), (32, 388, 0.8), (412, 26, 0.7), (376, 26, 0.7), (326, 26, 0.8), (32, 350, 1.2),
          (142, 222, 1.2), (167, 176, 1.3), (204, 86, 1.2), (32, 297, 1.8), (155, 184, 1.8), (302, 26, 1.8),
          (81, 214, 2.5), (241, 26, 2.5), (191, 26, 2.5), (142, 26, 3.1), (32, 229, 3.9), (20, 184, 5.5),
          (69, 139, 5.6), (20, 93, 5.6), (93, 48, 5.6), (32, 18, 5.6), (118, 18, 5.4), (0, 60, 5.6),
          (40, 60, 5.6), (80, 80, 5.6), (20, 130, 5.6), (60, 180, 5.5), (100, 130, 5.3), (0, 230, 5.0),
          (120, 40, 5.5), (140, 90, 4.4), (50, 240, 4.2), (130, 180, 3.6), (160, 50, 3.8), (180, 20, 3.4),
          (90, 230, 3.0), (0, 270, 2.6), (120, 240, 2.5)]

points = [[a1_pts, b1_pts, c1_pts, d1_pts],
          [a2_pts, b2_pts, c2_pts, d2_pts],
          [a3_pts, b3_pts, c3_pts, d3_pts],
          [a4_pts, b4_pts, c4_pts, d4_pts],
          [a5_pts, b5_pts, c5_pts, d5_pts]]

plt.rcParams['font.family'] = 'DejaVu Sans'
fig = plt.figure(figsize=(20.67, 21.6), dpi=100)

lefts = [0.0692, 0.2879, 0.5065, 0.7257]
bottoms = [0.8375, 0.6375, 0.4375, 0.237, 0.0375]
w, h = 0.1625, 0.1537
cmap = plt.get_cmap('jet')

for r in range(5):
    for c in range(4):
        ax = fig.add_axes([lefts[c], bottoms[r], w, h])
        p = np.array(points[r][c], dtype=float)
        p = p[np.argsort(p[:, 2], kind='stable')]
        sc = ax.scatter(p[:, 0], p[:, 1], c=p[:, 2] * 1e-6, cmap=cmap, vmin=0, vmax=5e-6,
                        s=170, edgecolors='none', zorder=2)
        ax.plot([0, 1500], [0, 1500], 'k--', lw=2.6, dashes=(4, 2.5), zorder=3)
        # fitted line over the observed range
        xl = np.array([p[:, 0].min(), p[:, 0].max()])
        lw = 6 if (r == 0 and c == 0) else 2.4
        ax.plot(xl, fit_slope[r][c] * xl + fit_icpt[r][c], color='red', lw=lw, zorder=4)
        ax.set_xlim(0, 1500)
        ax.set_ylim(0, 1500)
        ax.set_xticks([0, 500, 1000, 1500])
        ax.set_yticks([0, 500, 1000, 1500])
        ax.tick_params(direction='in', length=8, width=2, labelsize=13)
        ax.tick_params(axis='x', pad=9.5)
        ax.tick_params(axis='y', pad=6)
        for s in ax.spines.values():
            s.set_linewidth(2.2)
        ax.text(0.01, 0.985, '(%s%d)' % (letters[c], r + 1), transform=ax.transAxes,
                fontsize=16, fontweight='bold', va='top', ha='left', zorder=5)
        ax.text(0.335, 0.978, 'IOA=%s\nMB=%s\nRB=%s' % (ioa[r][c], mb[r][c], rb[r][c]),
                transform=ax.transAxes, fontsize=16, fontweight='bold', va='top', ha='left',
                linespacing=1.08, zorder=5)
        ax.set_xlabel('PBLH$_{%s}$ (m)' % obs_names[c], fontsize=16, fontweight='bold', labelpad=12)
        ylab = 'PBLH$_{%s}$ (m)' % schemes[c]
        if c == 0:
            ylab = regions[r] + '\n' + ylab
        ax.set_ylabel(ylab, fontsize=16, fontweight='bold', labelpad=12)

cax = fig.add_axes([0.9134, 0.037, 0.0125, 0.949])
cb = fig.colorbar(sc, cax=cax, extend='both', extendfrac=0.05)
cb.set_ticks([0, 1e-6, 2e-6, 3e-6, 4e-6, 5e-6])
cb.set_ticklabels(['0', '10$^{-6}$', '2x10$^{-6}$', '3x10$^{-6}$', '4x10$^{-6}$', '5x10$^{-6}$'])
cb.ax.tick_params(direction='in', length=10, width=1.2, labelsize=15, pad=12)
cb.outline.set_linewidth(2.5)
cb.set_label('Frequency', fontsize=26, labelpad=8)

fig.savefig('out.png', dpi=100)
